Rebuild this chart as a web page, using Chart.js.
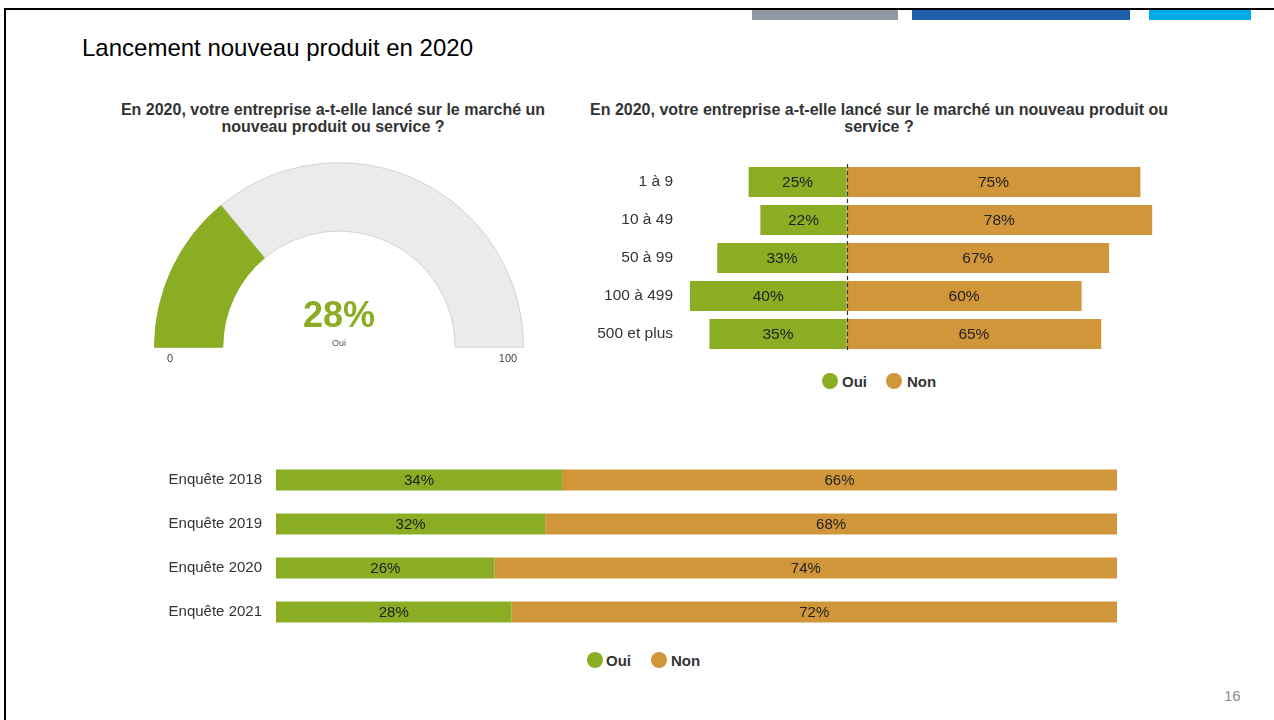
<!DOCTYPE html>
<html>
<head>
<meta charset="utf-8">
<script src="https://cdn.jsdelivr.net/npm/chart.js@4.4.1/dist/chart.umd.min.js"></script>
<style>
  html, body { margin:0; padding:0; background:#fff; width:1274px; height:720px; overflow:hidden;
    font-family:"Liberation Sans", Arial, sans-serif; }
  .abs { position:absolute; white-space:nowrap; }
  .frameTop { position:absolute; left:4px; top:8px; width:1270px; height:2px; background:#000; }
  .frameLeft { position:absolute; left:4px; top:8px; width:2px; height:712px; background:#000; }
  .deco { position:absolute; top:10px; height:10px; }
  .title { left:82px; top:36px; font-size:24px; line-height:24px; color:#000; }
  .sub { top:101px; font-size:16px; line-height:17px; font-weight:bold; color:#333; text-align:center; }
  .leg { font-size:15px; line-height:15px; font-weight:bold; color:#333; }
  .dot { position:absolute; width:16px; height:16px; border-radius:50%; }
  canvas { position:absolute; }
</style>
</head>
<body>
<div class="frameTop"></div>
<div class="frameLeft"></div>
<div class="deco" style="left:752px;width:146px;background:#8f97a3"></div>
<div class="deco" style="left:912px;width:218px;background:#1e5fa9"></div>
<div class="deco" style="left:1149px;width:102px;background:#00ade9"></div>

<div class="abs title">Lancement nouveau produit en 2020</div>
<div class="abs sub" style="left:83px;width:500px">En 2020, votre entreprise a-t-elle lancé sur le marché un<br>nouveau produit ou service ?</div>
<div class="abs sub" style="left:579px;width:600px">En 2020, votre entreprise a-t-elle lancé sur le marché un nouveau produit ou<br>service ?</div>

<canvas id="gauge" style="left:154px;top:162px;width:370px;height:186px"></canvas>
<div class="abs" id="gaugeValue" style="left:239px;width:200px;top:297px;text-align:center;font-size:36px;line-height:36px;font-weight:bold;color:#8aad24"></div>
<div class="abs" id="gaugeName" style="left:289px;width:100px;top:339px;text-align:center;font-size:9px;line-height:9px;color:#555"></div>
<div class="abs" id="gaugeMin" style="left:150px;width:40px;top:353px;text-align:center;font-size:11px;line-height:11px;color:#444"></div>
<div class="abs" id="gaugeMax" style="left:488px;width:40px;top:353px;text-align:center;font-size:11px;line-height:11px;color:#444"></div>

<canvas id="sizeChart" style="left:560px;top:160px;width:610px;height:200px"></canvas>
<div class="dot" style="left:822px;top:373px;background:#8aad24"></div>
<div class="abs leg" id="legA1" style="left:842px;top:374px"></div>
<div class="dot" style="left:886px;top:373px;background:#d2963a"></div>
<div class="abs leg" id="legA2" style="left:907px;top:374px"></div>

<canvas id="surveyChart" style="left:150px;top:450px;width:990px;height:195px"></canvas>
<div class="dot" style="left:587px;top:652px;background:#8aad24"></div>
<div class="abs leg" id="legB1" style="left:606px;top:653px"></div>
<div class="dot" style="left:651px;top:652px;background:#d2963a"></div>
<div class="abs leg" id="legB2" style="left:671px;top:653px"></div>

<div class="abs" style="left:1224px;top:688px;font-size:15px;line-height:15px;color:#8a8a8a">16</div>

<script>
// ---- data ----
const gaugeValue = 28;
const gaugeMin = 0;
const gaugeMax = 100;
const gaugeLabel = 'Oui';
const sizeCategories = ['1 à 9', '10 à 49', '50 à 99', '100 à 499', '500 et plus'];
const sizeOui = [25, 22, 33, 40, 35];
const sizeNon = [75, 78, 67, 60, 65];
const surveyCategories = ['Enquête 2018', 'Enquête 2019', 'Enquête 2020', 'Enquête 2021'];
const surveyOui = [34, 32, 26, 28];
const surveyNon = [66, 68, 74, 72];
const seriesNames = ['Oui', 'Non'];

const GREEN = '#8aad24';
const ORANGE = '#d2963a';
const FONT = '"Liberation Sans", Arial, sans-serif';

document.getElementById('gaugeValue').textContent = gaugeValue + '%';
document.getElementById('gaugeName').textContent = gaugeLabel;
document.getElementById('gaugeMin').textContent = gaugeMin;
document.getElementById('gaugeMax').textContent = gaugeMax;
document.getElementById('legA1').textContent = seriesNames[0];
document.getElementById('legA2').textContent = seriesNames[1];
document.getElementById('legB1').textContent = seriesNames[0];
document.getElementById('legB2').textContent = seriesNames[1];

const valueLabels = {
  id: 'valueLabels',
  afterDatasetsDraw(chart, args, opts) {
    const ctx = chart.ctx;
    ctx.save();
    ctx.font = opts.font;
    ctx.fillStyle = opts.color;
    ctx.textAlign = 'center';
    ctx.textBaseline = 'middle';
    chart.data.datasets.forEach((ds, di) => {
      const meta = chart.getDatasetMeta(di);
      meta.data.forEach((bar, i) => {
        const v = Math.abs(ds.data[i]);
        ctx.fillText(v + '%', (bar.x + bar.base) / 2, bar.y + 1);
      });
    });
    ctx.restore();
  }
};

const zeroLine = {
  id: 'zeroLine',
  afterDatasetsDraw(chart, args, opts) {
    if (!opts || !opts.enabled) return;
    const ctx = chart.ctx;
    const x = Math.round(chart.scales.x.getPixelForValue(0)) + 0.5;
    const { top, bottom } = chart.chartArea;
    ctx.save();
    ctx.setLineDash([4, 3]);
    ctx.strokeStyle = '#333';
    ctx.lineWidth = 1.2;
    ctx.beginPath();
    ctx.moveTo(x, top + 1);
    ctx.lineTo(x, bottom - 2);
    ctx.stroke();
    ctx.restore();
  }
};

// Gauge
new Chart(document.getElementById('gauge'), {
  type: 'doughnut',
  data: {
    labels: [gaugeLabel, ''],
    datasets: [{
      data: [gaugeValue - gaugeMin, gaugeMax - gaugeValue],
      backgroundColor: [GREEN, '#ebebeb'],
      borderColor: [GREEN, '#d2d2d2'],
      borderWidth: 1
    }]
  },
  options: {
    responsive: false,
    animation: false,
    rotation: -90,
    circumference: 180,
    cutout: '63%',
    layout: { padding: 0 },
    plugins: { legend: { display: false }, tooltip: { enabled: false } }
  }
});

function barOptions(cfg) {
  return {
    indexAxis: 'y',
    responsive: false,
    animation: false,
    layout: { padding: cfg.padding },
    scales: {
      x: { stacked: true, min: cfg.min, max: cfg.max, display: false },
      y: {
        stacked: true,
        grid: { display: false, drawTicks: false },
        border: { display: false },
        ticks: { color: '#333', font: { family: FONT, size: cfg.tickSize }, padding: cfg.tickPad },
        afterFit(scale) {
          scale.width = cfg.yWidth;
          scale.paddingTop = 0;
          scale.paddingBottom = 0;
        }
      }
    },
    plugins: {
      legend: { display: false },
      tooltip: { enabled: false },
      valueLabels: { font: cfg.labelSize + 'px ' + FONT, color: '#222' },
      zeroLine: { enabled: cfg.zero }
    }
  };
}

new Chart(document.getElementById('sizeChart'), {
  type: 'bar',
  data: {
    labels: sizeCategories,
    datasets: [
      { label: seriesNames[0], data: sizeOui.map(v => -v), backgroundColor: GREEN,
        barPercentage: 0.79, categoryPercentage: 1 },
      { label: seriesNames[1], data: sizeNon, backgroundColor: ORANGE,
        barPercentage: 0.79, categoryPercentage: 1 }
    ]
  },
  options: barOptions({ padding: { top: 3, bottom: 7, right: 10, left: 0 }, min: -42, max: 80,
    tickSize: 15.5, tickPad: 9, yWidth: 122, labelSize: 15.5, zero: true }),
  plugins: [valueLabels, zeroLine]
});

new Chart(document.getElementById('surveyChart'), {
  type: 'bar',
  data: {
    labels: surveyCategories,
    datasets: [
      { label: seriesNames[0], data: surveyOui, backgroundColor: GREEN,
        barPercentage: 0.48, categoryPercentage: 1 },
      { label: seriesNames[1], data: surveyNon, backgroundColor: ORANGE,
        barPercentage: 0.48, categoryPercentage: 1 }
    ]
  },
  options: barOptions({ padding: { top: 8, bottom: 11, right: 23, left: 0 }, min: 0, max: 100,
    tickSize: 15, tickPad: 14, yWidth: 126, labelSize: 15, zero: false }),
  plugins: [valueLabels, zeroLine]
});
</script>
</body>
</html>
